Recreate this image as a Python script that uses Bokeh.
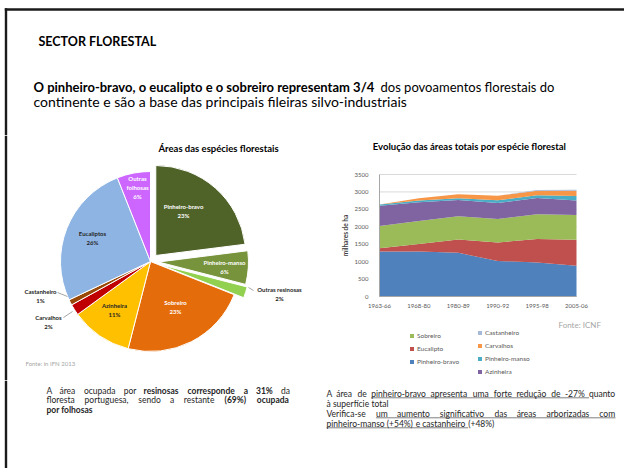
import math
from bokeh.plotting import figure
from bokeh.layouts import column, row
from bokeh.models import Range1d, ColumnDataSource, Legend, LegendItem, FixedTicker, Label, BoxAnnotation
from bokeh.embed import file_html
from bokeh.resources import INLINE

FONT = "Lato"

# ---------------- data ----------------
pie_species = ["Pinheiro-bravo", "Pinheiro-manso", "Outras resinosas", "Sobreiro", "Azinheira",
               "Carvalhos", "Castanheiro", "Eucaliptos", "Outras folhosas"]
pie_share = [23, 6, 2, 23, 11, 2, 1, 26, 6]
pie_colors = ["#4F6228", "#77933C", "#92D050", "#E46C0A", "#FFC000",
              "#C00000", "#984807", "#8EB4E3", "#CC66FF"]

periods = ["1963-66", "1968-80", "1980-89", "1990-92", "1995-98", "2005-06"]
pinheiro_bravo = [1288, 1293, 1252, 1021, 977, 885]
eucalipto = [99, 214, 386, 529, 672, 740]
sobreiro = [637, 658, 664, 670, 713, 716]
azinheira = [579, 536, 467, 462, 462, 413]
pinheiro_manso = [35, 50, 52, 78, 78, 130]
carvalhos = [0, 70, 112, 130, 131, 150]
castanheiro = [0, 0, 0, 0, 20, 30]
area_names = ["Pinheiro-bravo", "Eucalipto", "Sobreiro", "Azinheira", "Pinheiro-manso", "Carvalhos", "Castanheiro"]
area_colors = ["#4F81BD", "#C0504D", "#9BBB59", "#8064A2", "#4BACC6", "#F79646", "#A6B9D9"]
y_ticks = [0, 500, 1000, 1500, 2000, 2500, 3000, 3500]

# ---------------- layout / style ----------------
pie_explode = [8, 8, 10, 0, 0, 0, 0, 0, 0]
PIE_CX, PIE_CY, PIE_R = 150, 261, 90
BORDER = "#1a1a1a"
TOTAL_W = 616
TOP_W = 624
BOT_H = 88
TOP_LINE = 9.0


def base_fig(w, h, x0, y0):
    p = figure(width=w, height=h, x_range=Range1d(x0, x0 + w), y_range=Range1d(-(y0 + h), -y0),
               output_backend="svg", toolbar_location=None, x_axis_type=None, y_axis_type=None,
               min_border=0, outline_line_color=None, background_fill_color="white",
               border_fill_color="white", title=None)
    p.grid.visible = False
    return p


def txt(p, x, y, s, size, bold=False, color="#000000", align="left"):
    p.add_layout(Label(x=x, y=-y, text=s, text_font=FONT, text_font_size=f"{size}px",
                       text_font_style="bold" if bold else "normal", text_color=color,
                       text_align=align, text_baseline="middle"))


def hline(p, x0, x1, y, color="#000000", w=0.8):
    p.segment(x0=[x0], y0=[-y], x1=[x1], y1=[-y], line_color=color, line_width=w)


def border_box(p, left, right, top_y, bottom_y):
    p.add_layout(BoxAnnotation(left=left, right=right, top=-top_y, bottom=-bottom_y,
                               fill_color=BORDER, fill_alpha=1, line_color=None, level="overlay"))


def vborder(p, y0, y1):
    border_box(p, 4.3, 6.7, y0, y1)


def char_w(c):
    if c == " ":
        return 0.193
    if c in "iljíìï|":
        return 0.23
    if c in "ftr":
        return 0.34
    if c in ",.:;":
        return 0.21
    if c == "-":
        return 0.31
    if c in "()":
        return 0.29
    if c == "%":
        return 0.76
    if c in "mM":
        return 0.82
    if c in "wW":
        return 0.74
    if c.isdigit() or c == "+":
        return 0.58
    if c in "sz":
        return 0.42
    if c in "cçk":
        return 0.47
    if c.isupper():
        return 0.62
    return 0.53


def text_w(s, size, bold):
    return sum(char_w(c) for c in s) * size * 1.045 * (1.04 if bold else 1.0)


def para_line(p, words, x0, y, size, color, x1=None):
    """words: list of (text, bold, underline); justified between x0 and x1 if x1 is given."""
    widths = [text_w(t, size, b) for t, b, u in words]
    if x1 is not None and len(words) > 1:
        gap = (x1 - x0 - sum(widths)) / (len(words) - 1)
    else:
        gap = text_w(" ", size, False)
    x = x0
    pos = []
    for (t, b, u), w in zip(words, widths):
        txt(p, x, y, t, size, b, color)
        pos.append((x, w))
        x += w + gap
    for i, (t, b, u) in enumerate(words):
        if u:
            xs = pos[i][0]
            xe = pos[i][0] + pos[i][1] + (gap if i + 1 < len(words) else 0)
            hline(p, xs, xe, y + 4.3, color, 0.6)


# ---------------- top ----------------
top = base_fig(TOP_W, 135, 0, 0)
vborder(top, TOP_LINE - 1.2, 135)
border_box(top, 4.3, TOP_W, TOP_LINE - 1.2, TOP_LINE + 1.2)
txt(top, 38, 41, "SECTOR FLORESTAL", 12.5, bold=True)
txt(top, 33, 86, "O pinheiro-bravo, o eucalipto e o sobreiro representam 3/4", 13, bold=True)
txt(top, 380, 86, "dos povoamentos florestais do", 13)
txt(top, 33, 101, "continente e são a base das principais fileiras silvo-industriais", 14)

# ---------------- pie ----------------
pie = base_fig(318, 245, 0, 135)
vborder(pie, 135, 380)
xs, ys, a0s, a1s = [], [], [], []
start = 90.0
for share, ex in zip(pie_share, pie_explode):
    sweep = share / sum(pie_share) * 360.0
    end = start - sweep
    mid = math.radians((start + end) / 2)
    xs.append(PIE_CX + ex * math.cos(mid))
    ys.append(-PIE_CY + ex * math.sin(mid))
    a0s.append(math.radians(end))
    a1s.append(math.radians(start))
    start = end
pie_src = ColumnDataSource(dict(x=xs, y=ys, a0=a0s, a1=a1s, color=pie_colors, name=pie_species))
pie.wedge(x="x", y="y", radius=PIE_R, start_angle="a0", end_angle="a1", direction="anticlock",
          fill_color="color", line_color="white", line_width=1, source=pie_src)

txt(pie, 158, 148, "Áreas das espécies florestais", 9.5, bold=True)
W, D = "#FFFFFF", "#262626"
pie_label_pos = {
    "Pinheiro-bravo": ((183, 206), W), "Pinheiro-manso": ((224, 262), W),
    "Outras resinosas": ((279, 289), D), "Sobreiro": ((175, 302), W),
    "Azinheira": ((114, 305), D), "Carvalhos": ((48, 317), D),
    "Castanheiro": ((40, 291), D), "Eucaliptos": ((92, 233), D),
}
for name, share in zip(pie_species, pie_share):
    if name == "Outras folhosas":
        txt(pie, 137, 178, "Outras", 6, True, W, "center")
        txt(pie, 137, 187, "folhosas", 6, True, W, "center")
        txt(pie, 137, 196, f"{share}%", 6, True, W, "center")
        continue
    (lx, ly), col = pie_label_pos[name]
    txt(pie, lx, ly, name, 6, True, col, "center")
    txt(pie, lx, ly + 8.5, f"{share}%", 6, True, col, "center")
# leader lines
pie.segment(x0=[57, 63, 253], y0=[-292, -317, -290], x1=[67, 72, 248], y1=[-296, -311, -287],
            line_color="#7F7F7F", line_width=0.7)
txt(pie, 25, 363, "Fonte: in IFN 2013", 6, color="#A6A6A6")

# ---------------- area chart ----------------
# figure spans page x 318..616, y 135..380; plot data area page x 379..576, y 174..296
n = len(periods)
AX0, AX1, AY0, AY1 = 379, 576, 296, 174
FX0, FX1, FY0, FY1 = 318, TOTAL_W, 380, 135
ux = (n - 1) / (AX1 - AX0)
uy = y_ticks[-1] / (AY0 - AY1)


def ax_x(px):
    return (px - AX0) * ux


def ax_y(py):
    return (AY0 - py) * uy


src = ColumnDataSource(dict(x=list(range(n)), **{
    "Pinheiro-bravo": pinheiro_bravo, "Eucalipto": eucalipto, "Sobreiro": sobreiro,
    "Azinheira": azinheira, "Pinheiro-manso": pinheiro_manso, "Carvalhos": carvalhos,
    "Castanheiro": castanheiro}))
area = figure(width=FX1 - FX0, height=FY0 - FY1,
              x_range=Range1d(ax_x(FX0), ax_x(FX1)), y_range=Range1d(ax_y(FY0), ax_y(FY1)),
              output_backend="svg", toolbar_location=None, min_border=0, outline_line_color=None,
              background_fill_color="white", border_fill_color="white", title=None)
area.grid.visible = False
area.segment(x0=[0] * len(y_ticks), x1=[n - 1] * len(y_ticks), y0=y_ticks, y1=y_ticks,
             line_color="#D9D9D9", line_width=1)
rends = area.varea_stack(stackers=area_names, x="x", color=area_colors, source=src)

area.yaxis.ticker = FixedTicker(ticks=y_ticks)
area.xaxis.ticker = FixedTicker(ticks=list(range(n)))
area.xaxis.major_label_overrides = {i: p for i, p in enumerate(periods)}
area.xaxis.fixed_location = 0
area.yaxis.fixed_location = 0
area.xaxis.bounds = (0, n - 1)
area.yaxis.bounds = (0, y_ticks[-1])
for ax in (area.xaxis[0], area.yaxis[0]):
    ax.axis_line_color = "#A6A6A6"
    ax.major_tick_line_color = None
    ax.minor_tick_line_color = None
    ax.major_label_text_font = FONT
    ax.major_label_text_font_size = "6px"
    ax.major_label_text_color = "#595959"
area.xaxis.major_label_standoff = 1
area.yaxis.major_label_standoff = 5
area.yaxis.axis_label = "milhares de ha"
area.yaxis.axis_label_text_font = FONT
area.yaxis.axis_label_text_font_size = "6.5px"
area.yaxis.axis_label_text_font_style = "bold"
area.yaxis.axis_label_text_color = "#404040"
area.yaxis.axis_label_standoff = 3

area.add_layout(Label(x=ax_x(469), y=ax_y(146), text="Evolução das áreas totais por espécie florestal",
                      text_font=FONT, text_font_size="9.5px", text_font_style="bold",
                      text_align="center", text_baseline="middle", text_color="#000000"))
area.add_layout(Label(x=ax_x(558), y=ax_y(324), text="Fonte: ICNF", text_font=FONT,
                      text_font_size="8px", text_align="left", text_baseline="middle",
                      text_color="#A6A6A6"))

rmap = dict(zip(area_names, rends))


def make_legend(names, loc):
    lg = Legend(items=[LegendItem(label=nm, renderers=[rmap[nm]]) for nm in names], location=loc,
                orientation="vertical", border_line_color=None, background_fill_alpha=0,
                padding=0, margin=0, spacing=4, glyph_width=5, glyph_height=5, label_height=9,
                label_standoff=3, label_text_font=FONT, label_text_font_size="6.5px",
                label_text_color="#595959")
    area.add_layout(lg)


make_legend(["Sobreiro", "Eucalipto", "Pinheiro-bravo"], (409 - FX0, FY0 - 365.5))
make_legend(["Castanheiro", "Carvalhos", "Pinheiro-manso", "Azinheira"], (477 - FX0, FY0 - 375.5))

# ---------------- bottom text ----------------
bot = base_fig(TOTAL_W, BOT_H, 0, 380)
vborder(bot, 380, 380 + BOT_H)
FS = 8.5
C = "#262626"
R, B = False, True
para_line(bot, [("A", R, 0), ("área", R, 0), ("ocupada", R, 0), ("por", R, 0), ("resinosas", B, 0),
                ("corresponde", B, 0), ("a", B, 0), ("31%", B, 0), ("da", R, 0)], 46, 390, FS, C, 290)
para_line(bot, [("floresta", R, 0), ("portuguesa,", R, 0), ("sendo", R, 0), ("a", R, 0),
                ("restante", R, 0), ("(69%)", B, 0), ("ocupada", B, 0)], 46, 399.5, FS, C, 290)
para_line(bot, [("por", B, 0), ("folhosas", B, 0)], 46, 409, FS, C)

para_line(bot, [("A", R, 0), ("área", R, 0), ("de", R, 0), ("pinheiro-bravo", R, 1), ("apresenta", R, 1),
                ("uma", R, 1), ("forte", R, 1), ("redução", R, 1), ("de", R, 1), ("-27%", R, 1),
                ("quanto", R, 0)], 326, 393, FS, C, 615)
para_line(bot, [("à", R, 0), ("superfície", R, 0), ("total", R, 0)], 326, 403.5, FS, C)
para_line(bot, [("Verifica-se", R, 0), ("um", R, 1), ("aumento", R, 1), ("significativo", R, 1),
                ("das", R, 1), ("áreas", R, 1), ("arborizadas", R, 1), ("com", R, 1)],
          326, 413, FS, C, 615)
para_line(bot, [("pinheiro-manso", R, 1), ("(+54%)", R, 1), ("e", R, 1), ("castanheiro", R, 1),
                ("(+48%)", R, 0)], 326, 423, FS, C)

layout = column(top, row(pie, area), bot)
open("out.html", "w").write(file_html(layout, INLINE))
